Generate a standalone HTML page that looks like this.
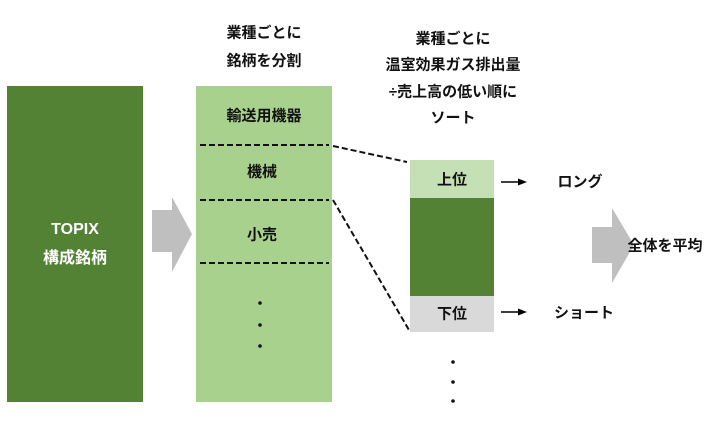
<!DOCTYPE html>
<html><head><meta charset="utf-8"><style>
body{margin:0;width:710px;height:435px;background:#fff;position:relative;overflow:hidden;font-family:"Liberation Sans","Noto Sans CJK JP",sans-serif;font-weight:bold;color:#111}
.t{position:absolute;font-size:15px;white-space:nowrap;transform:translate(-50%,-50%)}
</style></head><body>
<svg width="710" height="435" style="position:absolute;left:0;top:0">
<rect x="7" y="86" width="136" height="316" fill="#548235"/>
<rect x="196" y="86" width="136" height="316" fill="#a9d18e"/>
<g stroke="#111" stroke-width="2" stroke-dasharray="6,3">
<line x1="200" y1="145" x2="329" y2="145"/>
<line x1="200" y1="200" x2="329" y2="200"/>
<line x1="200" y1="263" x2="329" y2="263"/>
<line x1="333" y1="146" x2="407" y2="162"/>
<line x1="333" y1="200" x2="409" y2="330"/>
</g>
<rect x="410" y="160" width="84" height="38" fill="#c5e0b4"/>
<rect x="410" y="198" width="84" height="98" fill="#548235"/>
<rect x="410" y="296" width="84" height="36" fill="#d9d9d9"/>
<polygon points="152,210 172,210 172,197 192,234 172,272 172,252 152,252" fill="#bfbfbf"/>
<polygon points="592,227 612,227 612,208 634,245 612,283 612,263 592,263" fill="#bfbfbf"/>
<g stroke="#000" stroke-width="1.5"><line x1="501" y1="182" x2="520" y2="182"/><line x1="501" y1="312" x2="520" y2="312"/></g>
<polygon points="527,182 518,178.5 518,185.5" fill="#000"/>
<polygon points="527,312 518,308.5 518,315.5" fill="#000"/>
<g fill="#111"><circle cx="260" cy="303" r="1.8"/><circle cx="260" cy="325" r="1.8"/><circle cx="260" cy="346" r="1.8"/>
<circle cx="453" cy="362" r="1.8"/><circle cx="453" cy="382" r="1.8"/><circle cx="453" cy="401" r="1.8"/></g>
</svg>
<div class="t" style="left:264px;top:32px">業種ごとに</div>
<div class="t" style="left:264px;top:60px">銘柄を分割</div>
<div class="t" style="left:453px;top:38px">業種ごとに</div>
<div class="t" style="left:453px;top:64px">温室効果ガス排出量</div>
<div class="t" style="left:453px;top:91px">÷売上高の低い順に</div>
<div class="t" style="left:453px;top:117px">ソート</div>
<div class="t" style="left:75px;top:230px;color:#fff;font-size:16px">TOPIX</div>
<div class="t" style="left:75px;top:256px;color:#fff;font-size:16px">構成銘柄</div>
<div class="t" style="left:264px;top:115px">輸送用機器</div>
<div class="t" style="left:262px;top:171px">機械</div>
<div class="t" style="left:262px;top:234px">小売</div>
<div class="t" style="left:452px;top:179px">上位</div>
<div class="t" style="left:452px;top:313px">下位</div>
<div class="t" style="left:580px;top:181px">ロング</div>
<div class="t" style="left:584px;top:312px">ショート</div>
<div class="t" style="left:665px;top:245px">全体を平均</div>
</body></html>
